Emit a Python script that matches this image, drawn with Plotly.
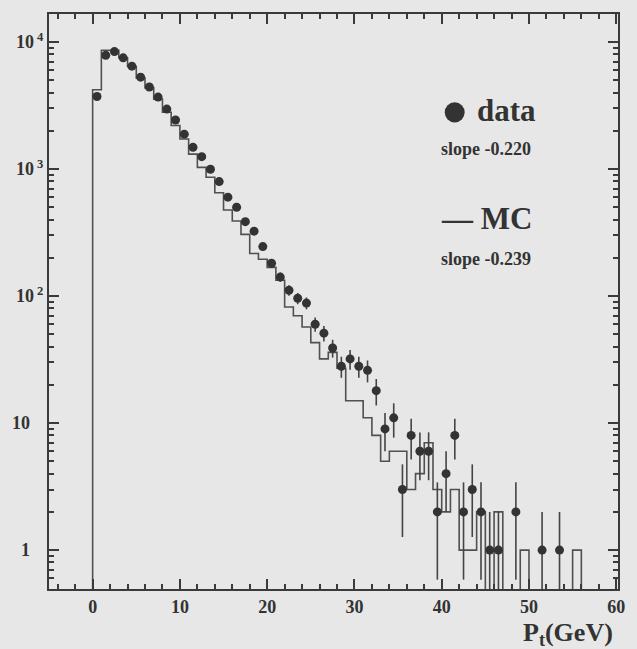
import numpy as np
import plotly.graph_objects as go

# ---- data ----
bin_width = 1.0
data_counts = [3720, 7860, 8400, 7500, 6450, 5280, 4420, 3680, 2960, 2430,
               1880, 1480, 1250, 995, 796, 600, 500, 385, 324, 245,
               181, 141, 111, 96, 88, 60, 51, 39, 28, 32,
               28, 26, 18, 9, 11, 3, 8, 6, 6, 2,
               4, 8, 2, 3, 2, 1, 1, 0, 2, 0,
               0, 1, 0, 1]
mc_counts = [4200, 8600, 8600, 7500, 6400, 5200, 4350, 3550, 2800, 2200,
             1720, 1310, 1030, 860, 650, 476, 390, 306, 216, 195,
             168, 133, 82, 70, 57, 43, 32, 36, 27, 15,
             15, 11, 8, 5, 6, 6, 3, 4, 7, 3,
             2, 3, 1, 1, 2, 0, 2, 0, 0, 1,
             0, 0, 0, 0, 0, 1]

x_ticks = [0, 10, 20, 30, 40, 50, 60]
y_tickvals = [1, 10, 100, 1000, 10000]
y_ticktext = ["1\u00a0\u00a0\u00a0", "10\u00a0\u00a0\u00a0", "10<sup> 2</sup>",
              "10<sup> 3</sup>", "10<sup> 4</sup>"]

legend_data = "data"
legend_data_slope = "slope -0.220"
legend_mc = "\u2014 MC"
legend_mc_slope = "slope -0.239"
x_title = "P<sub>t</sub>(GeV)"

# ---- derived arrays ----
FLOOR = 1e-2  # below visible range: draws step to the bottom of the frame
d = np.array(data_counts, dtype=float)
dx = (np.arange(len(d)) + 0.5) * bin_width
keep = d > 0
dx, d = dx[keep], d[keep]
err = np.sqrt(d)

mc = np.array(mc_counts, dtype=float)
edges = np.arange(len(mc) + 1) * bin_width
mc_plot = np.where(mc > 0, mc, FLOOR)
hx = np.concatenate([[edges[0]], edges[:-1], [edges[-1], edges[-1]]])
hy = np.concatenate([[FLOOR], mc_plot, [mc_plot[-1], FLOOR]])

ink = "#333333"
bg = "#e7e7e7"
FONT = "Liberation Serif"

fig = go.Figure()
fig.add_trace(go.Scatter(
    x=hx, y=hy, mode="lines", line=dict(shape="hv", color="#505050", width=1.6),
    showlegend=False, hoverinfo="skip"))
fig.add_trace(go.Scatter(
    x=dx, y=d, mode="markers",
    marker=dict(size=9, color=ink),
    error_y=dict(type="data", array=err, arrayminus=err, visible=True,
                 color="#444444", thickness=1.6, width=0),
    showlegend=False))

axis_common = dict(
    showline=True, linecolor="#3a3a3a", linewidth=2, mirror="ticks",
    ticks="inside", tickcolor="#3a3a3a", tickwidth=1.5, ticklen=10,
    showgrid=False, zeroline=False,
    tickfont=dict(family=FONT, size=18, color=ink, weight="bold"),
)

fig.update_xaxes(
    range=[-5, 60.2], tickvals=x_ticks,
    minor=dict(ticks="inside", dtick=2, tick0=0, ticklen=5, tickwidth=1.5,
               tickcolor="#3a3a3a", showgrid=False),
    **axis_common)
fig.update_yaxes(
    type="log", range=[-0.306, 4.22], tickvals=y_tickvals, ticktext=y_ticktext,
    minor=dict(ticks="inside", dtick="D1", ticklen=5, tickwidth=1.5,
               tickcolor="#3a3a3a", showgrid=False),
    **axis_common)

# legend block
fig.add_shape(type="circle", xref="paper", yref="paper",
              x0=0.713 - 0.0175, x1=0.713 + 0.0175,
              y0=0.829 - 0.0175, y1=0.829 + 0.0175,
              fillcolor=ink, line=dict(color=ink, width=0))
ann_font_big = dict(family=FONT, size=31, color=ink, weight="bold")
ann_font_small = dict(family=FONT, size=18, color=ink, weight="bold")
fig.add_annotation(text=legend_data, x=0.748, y=0.832, xref="paper", yref="paper",
                   xanchor="left", yanchor="middle", showarrow=False, font=ann_font_big)
fig.add_annotation(text=legend_data_slope, x=0.6846, y=0.7644, xref="paper", yref="paper",
                   xanchor="left", yanchor="middle", showarrow=False, font=ann_font_small)
fig.add_annotation(text=legend_mc, x=0.6846, y=0.6444, xref="paper", yref="paper",
                   xanchor="left", yanchor="middle", showarrow=False, font=ann_font_big)
fig.add_annotation(text=legend_mc_slope, x=0.6846, y=0.5734, xref="paper", yref="paper",
                   xanchor="left", yanchor="middle", showarrow=False, font=ann_font_small)
fig.add_annotation(text=x_title, x=0.995, y=-0.078, xref="paper", yref="paper",
                   xanchor="right", yanchor="middle", showarrow=False,
                   font=dict(family=FONT, size=26, color=ink, weight="bold"))

fig.update_layout(
    width=637, height=649,
    margin=dict(l=48, r=12, t=13, b=60),
    paper_bgcolor=bg, plot_bgcolor=bg,
    showlegend=False,
)

fig.write_html("out.html")
